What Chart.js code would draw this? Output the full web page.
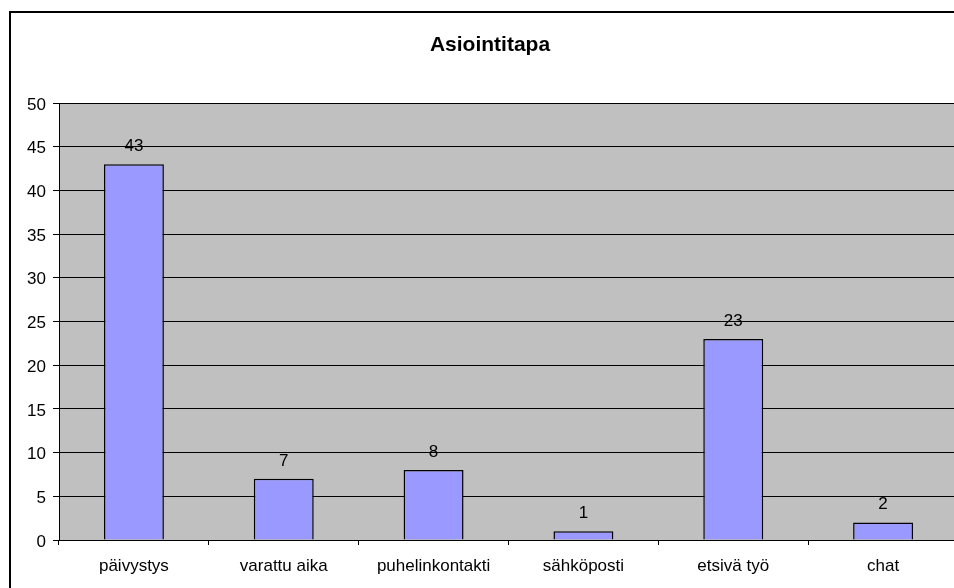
<!DOCTYPE html>
<html>
<head>
<meta charset="utf-8">
<script src="https://cdn.jsdelivr.net/npm/chart.js@4/dist/chart.umd.min.js"></script>
<style>
  html, body { margin: 0; padding: 0; overflow: hidden; background: #fff; }
  canvas { position: absolute; left: 0; top: 0; }
</style>
</head>
<body>
<canvas id="chart-area" width="1000" height="620"></canvas>
<script>
var categories = ['päivystys', 'varattu aika', 'puhelinkontakti', 'sähköposti', 'etsivä työ', 'chat'];
var counts = [43, 7, 8, 1, 23, 2];
var yTicks = [0, 5, 10, 15, 20, 25, 30, 35, 40, 45, 50];
var chartTitle = 'Asiointitapa';

var font = 'Liberation Sans, Arial, sans-serif';

// white sheet with black frame, grey plot area, title
var background = {
    id: 'background',
    beforeDraw: function(chart) {
        var ctx = chart.ctx, a = chart.chartArea;
        ctx.save();
        ctx.fillStyle = '#fff';
        ctx.fillRect(0, 0, chart.width, chart.height);
        ctx.strokeStyle = '#000';
        ctx.lineWidth = 2;
        ctx.strokeRect(10, 12, chart.width, chart.height);
        ctx.fillStyle = '#c0c0c0';
        ctx.fillRect(a.left, a.top, a.right - a.left, a.bottom - a.top);
        ctx.strokeStyle = '#808080';
        ctx.lineWidth = 1;
        ctx.strokeRect(a.left + 0.5, a.top + 0.5, a.right - a.left, a.bottom - a.top);

        ctx.fillStyle = '#000';
        ctx.font = 'bold 21px ' + font;
        ctx.textAlign = 'center';
        ctx.textBaseline = 'alphabetic';
        ctx.fillText(chartTitle, 490, 51);
        ctx.restore();
    }
};

// value above each bar
var valueLabels = {
    id: 'valueLabels',
    afterDatasetsDraw: function(chart) {
        var ctx = chart.ctx;
        var meta = chart.getDatasetMeta(0);
        ctx.save();
        ctx.font = '17px ' + font;
        ctx.fillStyle = '#000';
        ctx.textAlign = 'center';
        ctx.textBaseline = 'middle';
        meta.data.forEach(function(bar, i) {
            ctx.fillText(String(counts[i]), bar.x, bar.y - 18);
        });
        ctx.restore();
    }
};

var config = {
    type: 'bar',
    data: {
        labels: categories,
        datasets: [{
            data: counts,
            backgroundColor: '#9999ff',
            borderColor: '#000',
            borderWidth: 1.5,
            barPercentage: 0.4,
            categoryPercentage: 1
        }]
    },
    options: {
        responsive: false,
        animation: false,
        layout: { padding: { left: 10, top: 103, right: 42, bottom: 32 } },
        plugins: {
            legend: { display: false },
            tooltip: { enabled: false },
            title: { display: false }
        },
        scales: {
            x: {
                afterFit: function(s) { s.height = 48; },
                grid: { display: true, drawOnChartArea: false, offset: true, tickLength: 5, color: '#000' },
                border: { color: '#000', width: 1 },
                ticks: { color: '#000', padding: 11, maxRotation: 0, font: { family: font, size: 17 } }
            },
            y: {
                min: 0,
                max: 50,
                afterFit: function(s) { s.width = 49; },
                afterBuildTicks: function(s) { s.ticks = yTicks.map(function(v) { return { value: v }; }); },
                grid: { color: '#000', tickLength: 6 },
                border: { color: '#000', width: 1 },
                ticks: { color: '#000', padding: 7, labelOffset: 2, font: { family: font, size: 17 } }
            }
        }
    },
    plugins: [background, valueLabels]
};

new Chart(document.getElementById('chart-area').getContext('2d'), config);
</script>
</body>
</html>
